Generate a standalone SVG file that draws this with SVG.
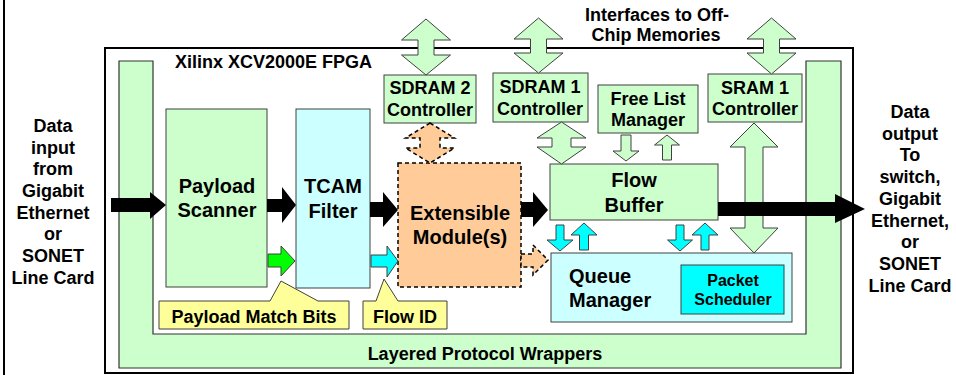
<svg xmlns="http://www.w3.org/2000/svg" width="956" height="375" viewBox="0 0 956 375">
  <style>
    text { font-family: "Liberation Sans", Arial, sans-serif; font-weight: bold; fill: #000; }
    .t18 { font-size: 18px; }
    .t20 { font-size: 20px; }
    .t15 { font-size: 16px; }
    .mid { text-anchor: middle; }
    .box { stroke: #404040; stroke-width: 1; }
    .lg { fill: #ccffcc; }
    .lc { fill: #ccffff; }
    .cy { fill: #00ffff; }
    .gr { fill: #00ff00; }
    .or { fill: #ffcc99; }
    .ye { fill: #ffff99; }
    .blk { fill: #000; stroke: none; }
    .dash { stroke: #000; stroke-width: 1.5; stroke-dasharray: 4 3; }
  </style>

  <rect width="956" height="375" fill="#fff"/>

  <!-- frame line on the left -->
  <line x1="4" y1="0" x2="4" y2="375" stroke="#000" stroke-width="2"/>

  <!-- FPGA outline -->
  <g id="fpga">
    <rect x="105" y="48" width="748" height="325" fill="none" stroke="#000" stroke-width="2"/>
    <text class="t18" x="175" y="68">Xilinx XCV2000E FPGA</text>
  </g>

  <!-- Layered Protocol Wrappers (U shape) -->
  <g id="wrappers">
    <path d="M119,61 H153 V334 H806 V61 H841 V368 H119 Z" class="lg" stroke="#333" stroke-width="1.2"/>
    <text class="t18 mid" x="485" y="360">Layered Protocol Wrappers</text>
  </g>

  <!-- off-chip memory label -->
  <g id="memories-label">
    <text class="t18 mid" x="657" y="21">Interfaces to Off-</text>
    <text class="t18 mid" x="656" y="41">Chip Memories</text>
  </g>

  <!-- I/O labels -->
  <g id="input-label">
    <text class="t18 mid" x="53" y="132">Data</text>
    <text class="t18 mid" x="53" y="153.5">input</text>
    <text class="t18 mid" x="53" y="175">from</text>
    <text class="t18 mid" x="53" y="197">Gigabit</text>
    <text class="t18 mid" x="53" y="218.5">Ethernet</text>
    <text class="t18 mid" x="53" y="240">or</text>
    <text class="t18 mid" x="53" y="262">SONET</text>
    <text class="t18 mid" x="53" y="284">Line Card</text>
  </g>
  <g id="output-label">
    <text class="t18 mid" x="910" y="118">Data</text>
    <text class="t18 mid" x="910" y="139.5">output</text>
    <text class="t18 mid" x="910" y="161">To</text>
    <text class="t18 mid" x="910" y="183">switch,</text>
    <text class="t18 mid" x="910" y="205">Gigabit</text>
    <text class="t18 mid" x="910" y="226.5">Ethernet,</text>
    <text class="t18 mid" x="910" y="248">or</text>
    <text class="t18 mid" x="910" y="270">SONET</text>
    <text class="t18 mid" x="910" y="291.5">Line Card</text>
  </g>

  <!-- processing blocks -->
  <g id="payload-scanner">
    <rect x="166" y="109" width="101" height="178" class="box lg"/>
    <text class="t20 mid" x="217" y="193">Payload</text>
    <text class="t20 mid" x="217" y="217">Scanner</text>
  </g>
  <g id="tcam-filter">
    <rect x="296" y="109" width="74" height="179" class="box lc"/>
    <text class="t20 mid" x="333" y="193">TCAM</text>
    <text class="t20 mid" x="333" y="218">Filter</text>
  </g>
  <g id="extensible">
    <rect x="398" y="163" width="123" height="124" class="or dash"/>
    <text class="t20 mid" x="460" y="220">Extensible</text>
    <text class="t20 mid" x="460" y="244">Module(s)</text>
  </g>
  <g id="flow-buffer">
    <rect x="550" y="164" width="168" height="56" class="box lg"/>
    <text class="t20 mid" x="634" y="187">Flow</text>
    <text class="t20 mid" x="634" y="212">Buffer</text>
  </g>
  <g id="sdram2">
    <rect x="384" y="75" width="92" height="48" class="box lg"/>
    <text class="t18 mid" x="430" y="94">SDRAM 2</text>
    <text class="t18 mid" x="430" y="116">Controller</text>
  </g>
  <g id="sdram1">
    <rect x="493" y="73" width="95" height="49" class="box lg"/>
    <text class="t18 mid" x="540" y="93">SDRAM 1</text>
    <text class="t18 mid" x="540" y="115">Controller</text>
  </g>
  <g id="free-list">
    <rect x="598" y="85" width="100" height="48" class="box lg"/>
    <text class="t18 mid" x="648" y="105">Free List</text>
    <text class="t18 mid" x="648" y="126">Manager</text>
  </g>
  <g id="sram1">
    <rect x="708" y="74" width="94" height="48" class="box lg"/>
    <text class="t18 mid" x="755" y="94">SRAM 1</text>
    <text class="t18 mid" x="755" y="115">Controller</text>
  </g>
  <g id="queue-manager">
    <rect x="551" y="253" width="241" height="69" class="box lc"/>
    <text class="t20" x="569" y="283">Queue</text>
    <text class="t20" x="569" y="307">Manager</text>
  </g>
  <g id="packet-scheduler">
    <rect x="681" y="265" width="103" height="49" class="box cy"/>
    <text class="t15 mid" x="733" y="286">Packet</text>
    <text class="t15 mid" x="733" y="305">Scheduler</text>
  </g>

  <!-- callouts -->
  <g id="match-bits">
    <path d="M159,301 H270 L281,281 L318,301 H349 V329 H159 Z" class="box ye"/>
    <text class="t18 mid" x="254" y="323">Payload Match Bits</text>
  </g>
  <g id="flow-id">
    <path d="M363,301 H376 L384,279 L398,301 H447 V329 H363 Z" class="box ye"/>
    <text class="t18 mid" x="405" y="323">Flow ID</text>
  </g>

  <!-- connectors -->
  <g id="connectors">
    <!-- data path (black) -->
    <polygon class="blk" points="111,198 150,198 150,192 166,205 150,219 150,212 111,212"/>
    <polygon class="blk" points="267,199 282,199 282,187 296,205 282,223 282,212 267,212"/>
    <polygon class="blk" points="370,202 383,202 383,192 398,210 383,227 383,217 370,217"/>
    <polygon class="blk" points="521,202 533,202 533,192 548,210 533,227 533,217 521,217"/>

    <!-- off-chip memory interfaces -->
    <polygon class="box lg" points="426,19 450.5,40 434,40 434,55 450.5,55 426,75 401.5,55 418,55 418,40 401.5,40"/>
    <polygon class="box lg" points="538.5,18 563,39 546.5,39 546.5,53 563,53 538.5,73 514,53 530.5,53 530.5,39 514,39"/>
    <polygon class="box lg" points="771.5,18 796,39 779.5,39 779.5,53 796,53 771.5,74 747,53 763.5,53 763.5,39 747,39"/>

    <!-- controller links -->
    <polygon class="or dash" points="430,123 454.5,138 440,138 440,148 454.5,148 430,163 405.5,148 420,148 420,138 405.5,138"/>
    <polygon class="box lg" points="561.5,122 586,138 571,138 571,147 586,147 561.5,164 537,147 552,147 552,138 537,138"/>
    <polygon class="box lg" points="754,123 778,147 763,147 763,228 778,228 754,253 730,228 745,228 745,147 730,147"/>

    <!-- free list links -->
    <polygon class="box lg" points="621,135 631,135 631,151 639,151 626,161 613,151 621,151"/>
    <polygon class="box lg" points="667,135 679.5,145 671.5,145 671.5,160 662.5,160 662.5,145 654.5,145"/>

    <!-- flow buffer / queue manager links -->
    <polygon class="box cy" points="556,225 564,225 564,240 573,240 560,251 547,240 556,240"/>
    <polygon class="box cy" points="584,223 597,235 588.5,235 588.5,250 579.5,250 579.5,235 571,235"/>
    <polygon class="box cy" points="676,225 684,225 684,240 692.5,240 680,251 667.5,240 676,240"/>
    <polygon class="box cy" points="705,223 718,235 709,235 709,250 701,250 701,235 692,235"/>

    <!-- output (black, over the SRAM link and wrapper) -->
    <polygon class="blk" points="718,202 835,202 835,194 865,209 835,223 835,216 718,216"/>

    <!-- side signals -->
    <polygon class="box gr" points="268,254 281,254 281,246 295,261 281,276 281,267 268,267"/>
    <polygon class="box cy" points="371,255 387,255 387,246 398,261 387,277 387,267 371,267"/>
    <polygon class="or dash" points="521,254 533,254 533,245 548,260 533,275 533,267 521,267"/>
  </g>
</svg>
